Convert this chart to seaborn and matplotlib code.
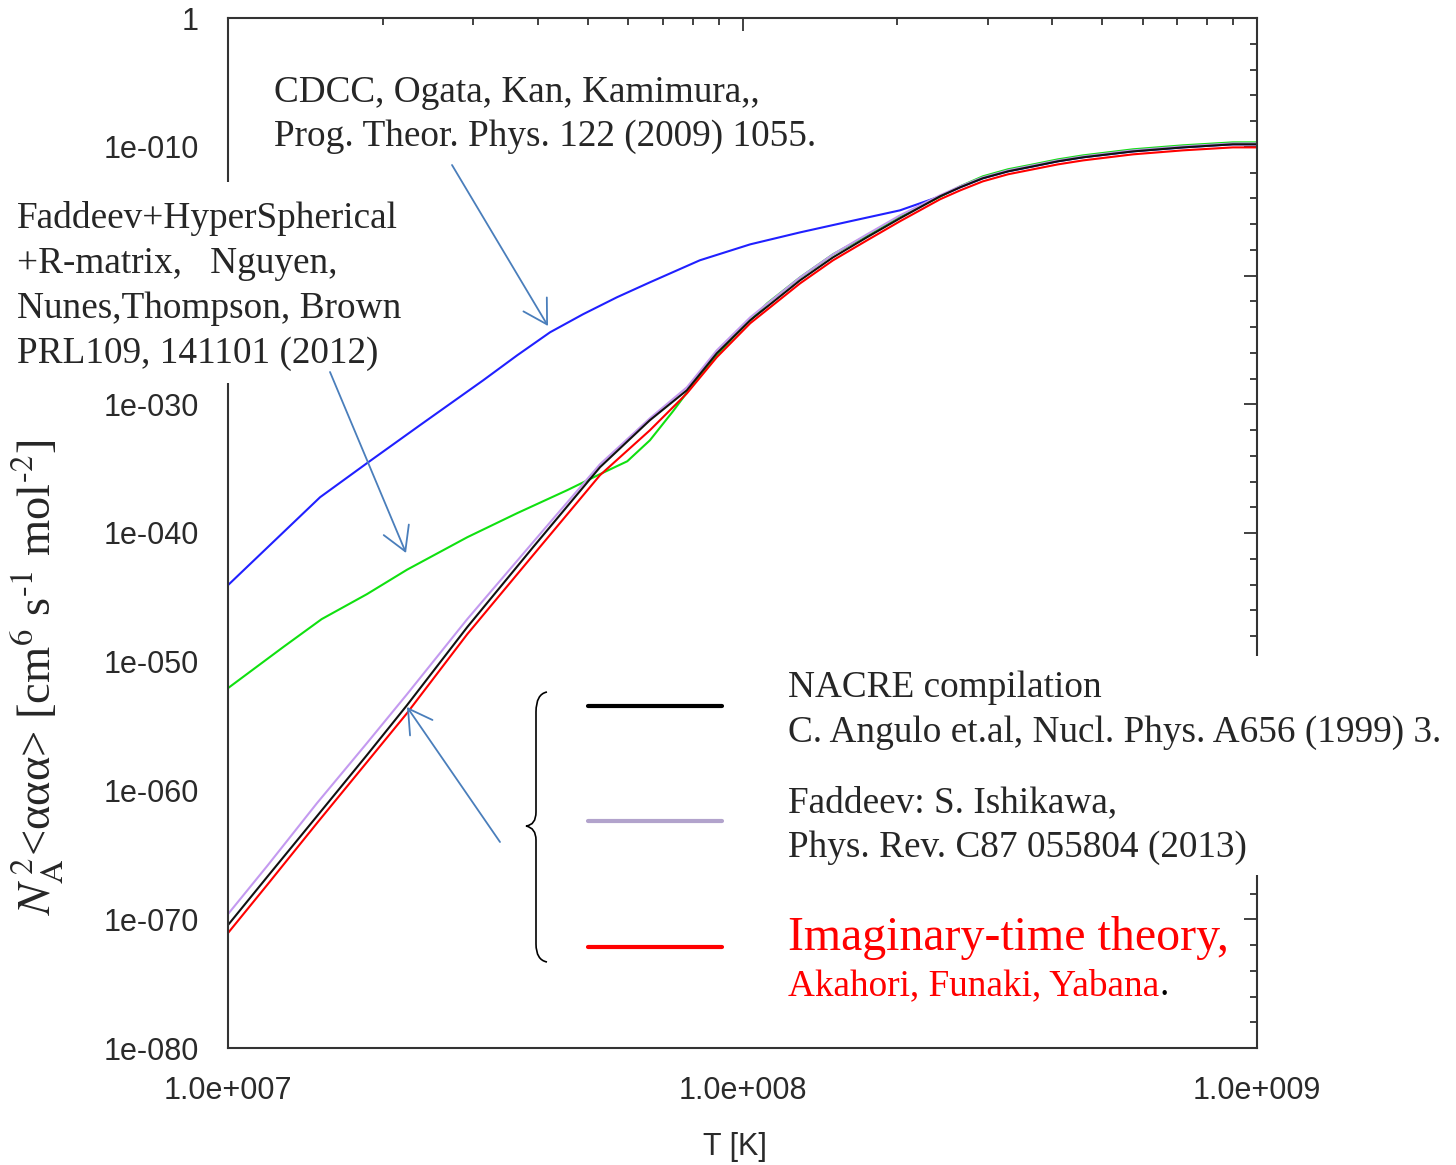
import numpy as np
import pandas as pd
import matplotlib
matplotlib.use("Agg")
import matplotlib.pyplot as plt
import seaborn as sns
from matplotlib.ticker import FixedLocator, LogLocator, NullFormatter
from matplotlib.patches import Rectangle, PathPatch, FancyArrowPatch
from matplotlib.path import Path
from matplotlib.lines import Line2D
from matplotlib.text import Annotation
from matplotlib.transforms import Affine2D

# ---------------------------------------------------------------
# data: log10(T [K]) and log10(rate)
# ---------------------------------------------------------------
logT_cdcc = [7.000, 7.179, 7.270, 7.373, 7.496, 7.562, 7.626, 7.690, 7.756, 7.820,
             7.917, 8.015, 8.112, 8.209, 8.306, 8.384, 8.423, 8.467, 8.516, 8.565,
             8.613, 8.662, 8.759, 8.856, 8.953, 9.000]
logR_cdcc = [-44.05, -37.22, -34.58, -31.63, -28.14, -26.20, -24.41, -23.01, -21.69, -20.53,
             -18.82, -17.58, -16.65, -15.79, -14.94, -13.85, -13.15, -12.45, -11.91, -11.52,
             -11.13, -10.82, -10.36, -10.05, -9.81, -9.81]

logT_nguyen = [7.000, 7.107, 7.182, 7.270, 7.348, 7.465, 7.562, 7.659, 7.723, 7.776,
               7.820, 7.865, 7.917, 7.982, 8.048, 8.112, 8.176, 8.242, 8.306, 8.370,
               8.423, 8.467, 8.516, 8.565, 8.613, 8.662, 8.759, 8.856, 8.953, 9.000]
logR_nguyen = [-52.05, -48.87, -46.69, -44.75, -42.85, -40.33, -38.46, -36.68, -35.43, -34.43,
               -32.80, -30.54, -27.75, -24.80, -22.16, -20.14, -18.35, -16.88, -15.40, -14.16,
               -13.07, -12.30, -11.75, -11.37, -10.98, -10.67, -10.20, -9.89, -9.66, -9.66]

logT_common = [7.000, 7.076, 7.173, 7.270, 7.348, 7.465, 7.593, 7.723, 7.820, 7.892,
               7.950, 8.015, 8.112, 8.176, 8.242, 8.306, 8.384, 8.423, 8.467, 8.516,
               8.565, 8.613, 8.662, 8.759, 8.856, 8.953, 9.000]
logR_ishikawa = [-69.60, -65.87, -60.98, -56.32, -52.52, -46.69, -40.71, -34.66, -31.09, -28.68,
                 -25.81, -23.25, -20.14, -18.35, -16.80, -15.33, -13.77, -13.07, -12.38, -11.83,
                 -11.44, -11.06, -10.75, -10.28, -9.97, -9.74, -9.74]
logR_nacre = [-70.45, -66.72, -61.99, -57.25, -53.37, -47.31, -41.10, -34.89, -31.24, -28.91,
              -26.04, -23.48, -20.37, -18.59, -17.03, -15.56, -13.85, -13.15, -12.45, -11.91,
              -11.52, -11.13, -10.82, -10.36, -10.05, -9.81, -9.81]
logR_imag = [-71.07, -67.34, -62.53, -57.80, -53.99, -47.86, -41.72, -35.51, -32.02, -29.15,
             -26.35, -23.71, -20.61, -18.82, -17.27, -15.79, -14.08, -13.39, -12.69, -12.14,
             -11.75, -11.37, -11.06, -10.59, -10.28, -10.05, -10.05]

models = ["CDCC", "Nguyen", "Ishikawa", "NACRE", "Imaginary"]
colors = {"CDCC": "#2020ff", "Nguyen": "#10e010", "Ishikawa": "#c49af0",
          "NACRE": "#111111", "Imaginary": "#ff0000"}

x_ticks = [1e7, 1e8, 1e9]
x_ticklabels = ["1.0e+007", "1.0e+008", "1.0e+009"]
y_exps = list(range(-80, 1, 10))
# the 1e-020 label sits under the left text block in the original
y_ticklabels = ["1" if k == 0 else ("" if k == -20 else "1e-%03d" % (-k)) for k in y_exps]

# ---------------------------------------------------------------
frames = []
for name, lt, lr in [("CDCC", logT_cdcc, logR_cdcc),
                     ("Nguyen", logT_nguyen, logR_nguyen),
                     ("Ishikawa", logT_common, logR_ishikawa),
                     ("NACRE", logT_common, logR_nacre),
                     ("Imaginary", logT_common, logR_imag)]:
    frames.append(pd.DataFrame({"T": 10.0 ** np.array(lt),
                                "rate": 10.0 ** np.array(lr),
                                "model": name}))
df = pd.concat(frames, ignore_index=True)

W, H = 1456, 1165
sns.set_style("white")
plt.rcParams["font.family"] = ["Liberation Sans", "DejaVu Sans"]
plt.rcParams["mathtext.fontset"] = "stix"

fig = plt.figure(figsize=(W / 100, H / 100), dpi=100)
ax = fig.add_axes([228 / W, 1 - 1048 / H, 1029 / W, 1030 / H])
ax.set_xscale("log")
ax.set_yscale("log")

sns.lineplot(data=df, x="T", y="rate", hue="model", hue_order=models, palette=colors,
             estimator=None, sort=False, linewidth=1.5, legend=False, ax=ax)

ax.set_xlim(1e7, 1e9)
ax.set_ylim(1e-80, 1)

ax.set_xticks(x_ticks, x_ticklabels)
ax.xaxis.set_minor_locator(LogLocator(base=10, subs=np.arange(2, 10)))
ax.xaxis.set_minor_formatter(NullFormatter())
ax.set_yticks([10.0 ** k for k in y_exps], y_ticklabels)
ax.yaxis.set_minor_locator(FixedLocator([10.0 ** k for k in range(-80, 1, 2) if k % 10]))
ax.yaxis.set_minor_formatter(NullFormatter())

ax.tick_params(which="both", direction="in", top=True, right=True, color="#333333",
               width=1.3, labelsize=22, labelcolor="#2a2a2a")
ax.tick_params(which="major", length=9.5)
ax.tick_params(which="minor", length=5)
ax.tick_params(axis="y", pad=21)
ax.tick_params(axis="x", pad=20)
for s in ax.spines.values():
    s.set_color("#333333")
    s.set_linewidth(1.5)

ax.set_xlabel("T [K]", fontsize=22, color="#2a2a2a")
ax.xaxis.set_label_coords((735 - 228) / 1029, -0.082)
ax.set_ylabel("")

# pixel coordinates (origin top-left) -> figure
px = Affine2D().scale(1 / W, -1 / H).translate(0, 1) + fig.transFigure

def ftext(x, y, s, **kw):
    kw.setdefault("family", "Liberation Serif")
    kw.setdefault("fontsize", 26.8)
    kw.setdefault("va", "baseline")
    return fig.text(x / W, 1 - y / H, s, zorder=5, **kw)

fig.text(37 / W, 1 - 677 / H,
         r"$N_{\mathrm{A}}^{\,2}$<ααα> [cm$^{6}$ s$^{\text{-1}}$ mol$^{\text{-2}}$]",
         rotation=90, ha="center", va="center", fontsize=33.5, family="Liberation Serif")

# white boxes behind the annotation text (they hide the frame there)
fig.add_artist(Rectangle((10, 182), 396, 201, transform=px, facecolor="white",
                         edgecolor="none", zorder=3))
fig.add_artist(Rectangle((780, 656), 670, 219, transform=px, facecolor="white",
                         edgecolor="none", zorder=3))

ftext(274, 102, "CDCC, Ogata, Kan, Kamimura,,")
ftext(274, 146, "Prog. Theor. Phys. 122 (2009) 1055.")

ftext(17, 228, "Faddeev+HyperSpherical")
ftext(17, 273, "+R-matrix,   Nguyen,")
ftext(17, 318, "Nunes,Thompson, Brown")
ftext(17, 363, "PRL109, 141101 (2012)")

ftext(788, 697, "NACRE compilation")
ftext(788, 742, "C. Angulo et.al, Nucl. Phys. A656 (1999) 3.")
ftext(788, 812, "Faddeev: S. Ishikawa,")
ftext(788, 857, "Phys. Rev. C87 055804 (2013)")
ftext(788, 950, "Imaginary-time theory,", color="red", fontsize=34.5)
akahori = ftext(788, 995, "Akahori, Funaki, Yabana", color="red")
fig.add_artist(Annotation(".", xy=(1, 0), xycoords=akahori, ha="left", va="bottom",
                          family="Liberation Serif", fontsize=26.8, color="black",
                          zorder=5))

# legend samples
for y, c in [(706, "black"), (821, "#b2a3cc"), (947, "red")]:
    fig.add_artist(Line2D([588, 722], [y, y], transform=px, color=c, lw=3, zorder=5))

# curly brace
verts = [(547, 692), (536, 694), (536, 712), (536, 812), (536, 825), (526, 826),
         (536, 828), (536, 840), (536, 944), (536, 960), (547, 962)]
codes = [Path.MOVETO, Path.CURVE3, Path.CURVE3, Path.LINETO, Path.CURVE3, Path.CURVE3,
         Path.CURVE3, Path.CURVE3, Path.LINETO, Path.CURVE3, Path.CURVE3]
fig.add_artist(PathPatch(Path(verts, codes), transform=px, facecolor="none",
                         edgecolor="black", lw=1.2, zorder=5))

# arrows
arrow_col = "#4a7ebb"
for start, tip in [((452, 165), (548, 326)),
                   ((330, 372), (406, 553)),
                   ((500, 842), (407, 707))]:
    fig.add_artist(FancyArrowPatch(start, tip, transform=px,
                                   arrowstyle="->,head_length=1.2,head_width=0.7",
                                   mutation_scale=14, color=arrow_col, lw=1.3,
                                   shrinkA=0, shrinkB=0, zorder=6))

fig.savefig("out.png", dpi=100)
